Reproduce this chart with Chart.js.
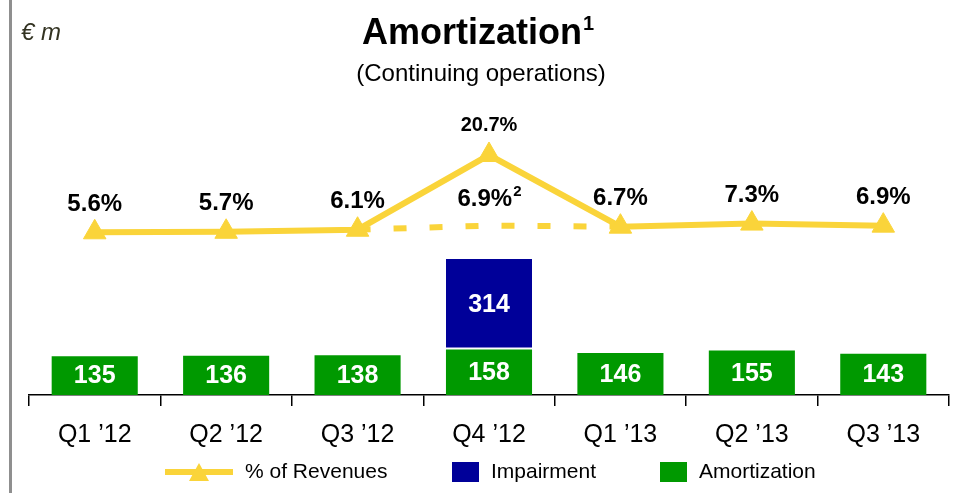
<!DOCTYPE html>
<html>
<head>
<meta charset="utf-8">
<script src="https://cdn.jsdelivr.net/npm/chart.js@4/dist/chart.umd.min.js"></script>
<style>
    body { margin: 0; background: #ffffff; }
    #wrap { width: 963px; height: 493px; }
</style>
</head>
<body>
<div id="wrap"><canvas id="amortChart" width="963" height="493"></canvas></div>
<script>
const quarters = ['Q1 ’12', 'Q2 ’12', 'Q3 ’12', 'Q4 ’12', 'Q1 ’13', 'Q2 ’13', 'Q3 ’13'];
const amortization = [135, 136, 138, 158, 146, 155, 143];
const impairment = [null, null, null, 314, null, null, null];
const revenueShare = [5.6, 5.7, 6.1, 20.7, 6.7, 7.3, 6.9];
const adjustedShare = [null, null, 6.1, 6.9, 6.7, null, null];

const FONT = '"Liberation Sans", Arial, sans-serif';
const YELLOW = '#fad43a';
const GREEN = '#009900';
const BLUE = '#000099';

function pct(v) {
    return v.toFixed(1) + '%';
}

// text with a small raised note number after it, centred on x
function textWithNote(ctx, text, note, x, y, size, noteSize, noteRise) {
    ctx.font = 'bold ' + size + 'px ' + FONT;
    const w1 = ctx.measureText(text).width;
    ctx.font = 'bold ' + noteSize + 'px ' + FONT;
    const w2 = ctx.measureText(note).width;
    const start = x - (w1 + w2) / 2;
    ctx.textAlign = 'left';
    ctx.font = 'bold ' + size + 'px ' + FONT;
    ctx.fillText(text, start, y);
    ctx.font = 'bold ' + noteSize + 'px ' + FONT;
    ctx.fillText(note, start + w1 + 1, y - noteRise);
}

const decorPlugin = {
    id: 'decor',
    beforeDraw(chart) {
        const ctx = chart.ctx;
        ctx.save();
        ctx.fillStyle = '#8f8f8f';
        ctx.fillRect(9, 0, 3, chart.height);
        ctx.restore();
    },
    afterDraw(chart) {
        const ctx = chart.ctx;
        ctx.save();
        ctx.fillStyle = '#000';
        ctx.textBaseline = 'alphabetic';

        // header
        ctx.fillStyle = '#333322';
        ctx.font = 'italic 24px ' + FONT;
        ctx.textAlign = 'left';
        ctx.fillText('€ m', 21, 40);

        ctx.fillStyle = '#000';
        ctx.font = 'bold 36px ' + FONT;
        const tw = ctx.measureText('Amortization').width;
        ctx.fillText('Amortization', 362, 44);
        ctx.font = 'bold 20px ' + FONT;
        ctx.fillText('1', 362 + tw + 1, 30);

        ctx.font = '24px ' + FONT;
        ctx.textAlign = 'center';
        ctx.fillText('(Continuing operations)', 481, 81);

        // bar values
        ctx.textBaseline = 'middle';
        ctx.fillStyle = '#fff';
        ctx.font = 'bold 25px ' + FONT;
        [2, 3].forEach(di => {
            chart.getDatasetMeta(di).data.forEach((bar, i) => {
                const v = chart.data.datasets[di].data[i];
                if (v == null) return;
                ctx.fillText(String(v), bar.x, (bar.y + bar.base) / 2 + 1);
            });
        });

        // percentage labels
        ctx.fillStyle = '#000';
        chart.getDatasetMeta(0).data.forEach((pt, i) => {
            const v = revenueShare[i];
            ctx.font = (v > 15 ? 'bold 20px ' : 'bold 24px ') + FONT;
            ctx.textAlign = 'center';
            ctx.fillText(pct(v), pt.x, pt.y - (v > 15 ? 30 : 28));
        });
        chart.getDatasetMeta(1).data.forEach((pt, i) => {
            const v = adjustedShare[i];
            if (v == null || v === revenueShare[i]) return;
            textWithNote(ctx, pct(v), '2', pt.x, pt.y - 26, 24, 15, 8);
        });

        // legend
        ctx.textBaseline = 'middle';
        ctx.textAlign = 'left';
        ctx.font = '21px ' + FONT;
        const ly = 472;
        ctx.strokeStyle = YELLOW;
        ctx.lineWidth = 6;
        ctx.beginPath();
        ctx.moveTo(165, ly);
        ctx.lineTo(233, ly);
        ctx.stroke();
        ctx.fillStyle = YELLOW;
        ctx.beginPath();
        ctx.moveTo(199, ly - 9);
        ctx.lineTo(209, ly + 9);
        ctx.lineTo(189, ly + 9);
        ctx.closePath();
        ctx.fill();
        ctx.fillStyle = '#000';
        ctx.fillText('% of Revenues', 245, ly);

        ctx.fillStyle = BLUE;
        ctx.fillRect(452, 462, 27, 20);
        ctx.fillStyle = '#000';
        ctx.fillText('Impairment', 491, ly);

        ctx.fillStyle = GREEN;
        ctx.fillRect(660, 462, 27, 20);
        ctx.fillStyle = '#000';
        ctx.fillText('Amortization', 699, ly);
        ctx.restore();
    }
};

document.addEventListener('DOMContentLoaded', () => {
    const ctx = document.getElementById('amortChart').getContext('2d');

    new Chart(ctx, {
        type: 'bar',
        data: {
            labels: quarters,
            datasets: [
                {
                    type: 'line',
                    label: '% of Revenues',
                    data: revenueShare,
                    yAxisID: 'y2',
                    borderColor: YELLOW,
                    backgroundColor: YELLOW,
                    borderWidth: 6,
                    tension: 0,
                    pointStyle: 'triangle',
                    pointRadius: 13,
                    pointBorderWidth: 1,
                    pointBackgroundColor: YELLOW,
                    pointBorderColor: YELLOW,
                    order: 0
                },
                {
                    type: 'line',
                    label: 'adjusted',
                    data: adjustedShare,
                    yAxisID: 'y2',
                    borderColor: YELLOW,
                    borderWidth: 6,
                    borderDash: [13, 23],
                    tension: 0,
                    pointRadius: 0,
                    spanGaps: false,
                    order: 0
                },
                {
                    label: 'Amortization',
                    data: amortization,
                    backgroundColor: GREEN,
                    categoryPercentage: 1,
                    barPercentage: 0.655,
                    order: 1
                },
                {
                    label: 'Impairment',
                    data: impairment,
                    backgroundColor: BLUE,
                    borderColor: '#ffffff',
                    borderWidth: { top: 0, left: 0, right: 0, bottom: 2 },
                    borderSkipped: false,
                    categoryPercentage: 1,
                    barPercentage: 0.655,
                    order: 1
                }
            ]
        },
        options: {
            responsive: false,
            animation: false,
            events: [],
            layout: {
                padding: { top: 110, left: 29, right: 14, bottom: 29 }
            },
            plugins: {
                legend: { display: false },
                tooltip: { enabled: false },
                title: { display: false }
            },
            scales: {
                x: {
                    stacked: true,
                    grid: {
                        offset: true,
                        drawOnChartArea: false,
                        drawTicks: true,
                        tickLength: 11,
                        color: '#000',
                        lineWidth: 1.5
                    },
                    border: { display: true, color: '#000', width: 1.5 },
                    ticks: {
                        color: '#000',
                        padding: 14,
                        maxRotation: 0,
                        minRotation: 0,
                        font: { size: 25, family: FONT }
                    }
                },
                y: {
                    stacked: true,
                    display: false,
                    min: 0,
                    max: 990
                },
                y2: {
                    display: false,
                    min: -26.2,
                    max: 29.5
                }
            }
        },
        plugins: [decorPlugin]
    });
});
</script>
</body>
</html>
